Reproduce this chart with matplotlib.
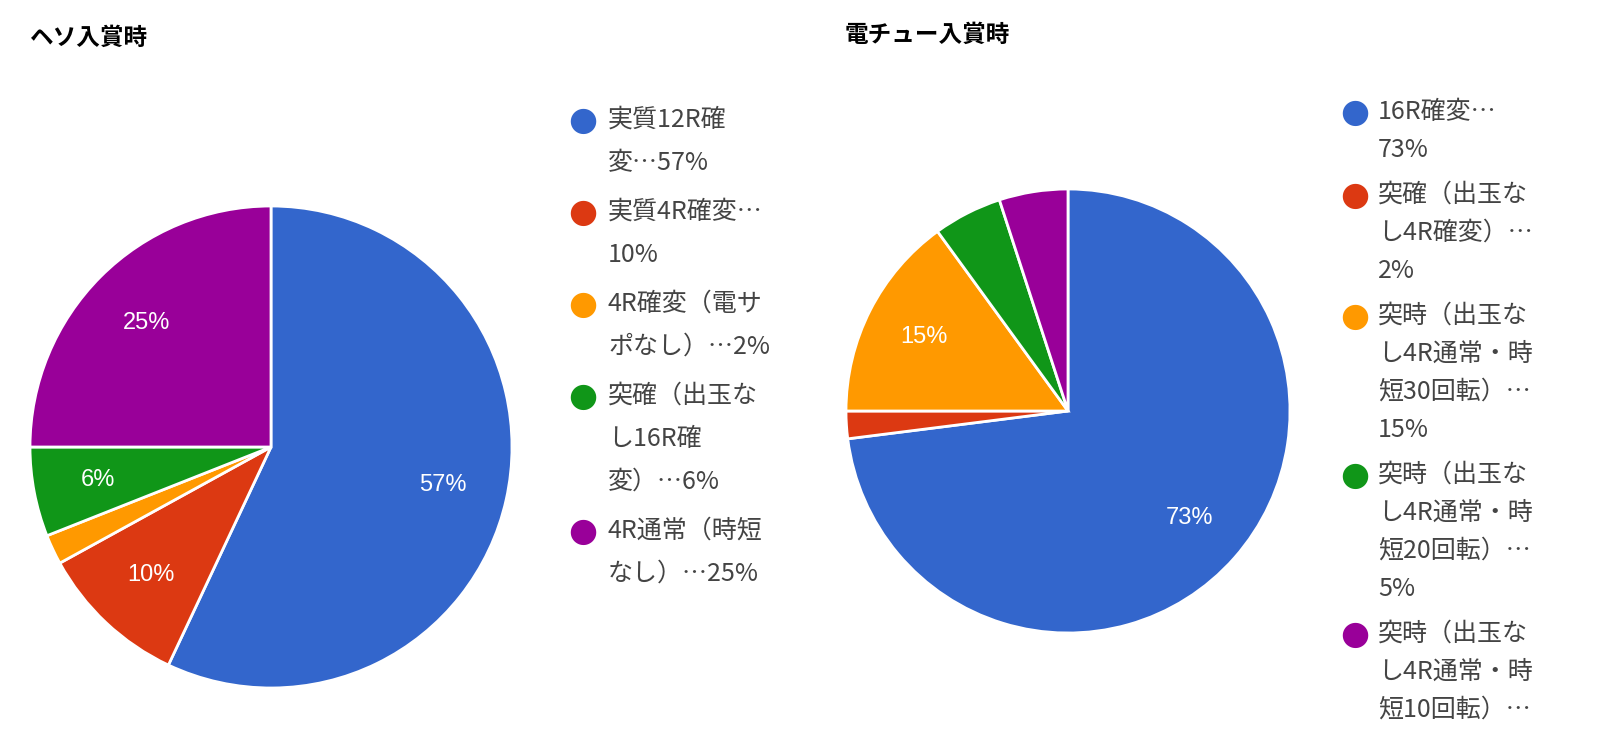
import matplotlib
matplotlib.use("Agg")
import matplotlib.pyplot as plt

plt.rcParams["font.family"] = ["Noto Sans CJK JP"]
W, H = 1599, 737

colors = ["#3366cc", "#dc3912", "#ff9900", "#109618", "#990099"]
left_title = "ヘソ入賞時"
left_values = [57, 10, 2, 6, 25]
left_legend = [["実質12R確", "変…57%"], ["実質4R確変…", "10%"], ["4R確変（電サ", "ポなし）…2%"],
               ["突確（出玉な", "し16R確", "変）…6%"], ["4R通常（時短", "なし）…25%"]]
right_title = "電チュー入賞時"
right_values = [73, 2, 15, 5, 5]
right_legend = [["16R確変…", "73%"], ["突確（出玉な", "し4R確変）…", "2%"],
                ["突時（出玉な", "し4R通常・時", "短30回転）…", "15%"],
                ["突時（出玉な", "し4R通常・時", "短20回転）…", "5%"],
                ["突時（出玉な", "し4R通常・時", "短10回転）…"]]

fig = plt.figure(figsize=(W / 100, H / 100), dpi=100)

def fx(x): return x / W
def fy(y): return 1 - y / H

def pie(cx, cy, r, vals):
    ax = fig.add_axes([fx(cx - r), fy(cy + r), 2 * r / W, 2 * r / H])
    ax.pie(vals, colors=colors, startangle=90, counterclock=False,
           wedgeprops=dict(edgecolor="white", linewidth=2),
           autopct=lambda p: f"{p:.0f}%" if p >= 5.5 else "", pctdistance=0.73,
           textprops=dict(color="white", fontsize=17, family="Liberation Sans"))
    ax.set_xlim(-1, 1)
    ax.set_ylim(-1, 1)
    ax.set_aspect("equal")
    ax.axis("off")

pie(271, 447, 241, left_values)
pie(1068, 411, 222, right_values)

fig.text(fx(30), fy(38), left_title, fontsize=17, fontweight="bold", va="center")
fig.text(fx(845), fy(35), right_title, fontsize=17, fontweight="bold", va="center")

def legend(cx, tx, y0, step, gap, entries):
    y = y0
    for i, lines in enumerate(entries):
        fig.text(fx(cx), fy(y), "●", color=colors[i], fontsize=24, ha="center", va="center",
                 family="DejaVu Sans")
        for j, ln in enumerate(lines):
            fig.text(fx(tx), fy(y + j * step), ln, fontsize=18, color="#444444", va="center")
        y += len(lines) * step + gap

legend(583, 608, 120, 43, 6, left_legend)
legend(1355, 1378, 112, 38, 7, right_legend)

fig.savefig("out.png", dpi=100)
